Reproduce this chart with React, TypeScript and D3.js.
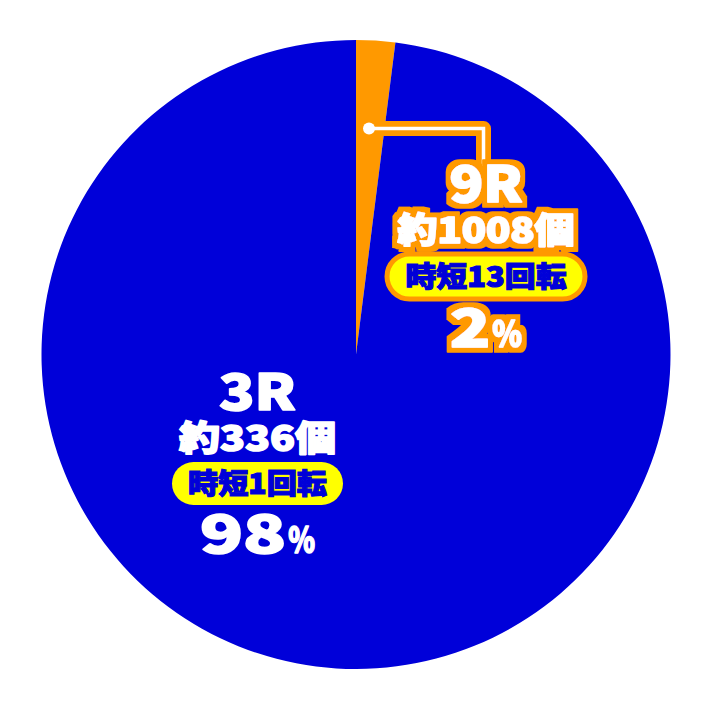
import * as d3 from "d3"

// 大当り振り分け
const rounds = ["9R", "3R"]
const shares = [2, 98]
const payouts = ["約1008個", "約336個"]
const jitan = ["時短13回転", "時短1回転"]

const W = 712
const H = 710
const CX = 356
const CY = 354.5
const R = 314.5

const BLUE = "#0000d9"
const ORANGE = "#ff9900"
const YELLOW = "#ffff00"
const FONT = "'Noto Sans CJK JP', 'Liberation Sans', sans-serif"

interface Slice {
  name: string
  share: number
  payout: string
  jitan: string
}

const slices: Slice[] = rounds.map((name, i) => ({
  name,
  share: shares[i],
  payout: payouts[i],
  jitan: jitan[i],
}))

const sliceColor: Record<string, string> = { "9R": ORANGE, "3R": BLUE }

// label block layout (centre x, and baselines)
const layout: Record<string, {
  cx: number; round: number; payout: number; pill: number; pct: number
  roundW: number; payoutW: number; pillW: number; pillTextW: number; pctW: number
  outlined: boolean
}> = {
  "9R": { cx: 486, round: 201.5, payout: 243, pill: 276.5, pct: 346.5, roundW: 73, payoutW: 177, pillW: 198, pillTextW: 161, pctW: 72, outlined: true },
  "3R": { cx: 257.5, round: 410, payout: 451, pill: 483.5, pct: 553, roundW: 77, payoutW: 157, pillW: 171, pillTextW: 139, pctW: 115, outlined: false },
}

function Label({ s }: { s: Slice }) {
  const L = layout[s.name]
  const pct = String(s.share)
  const numW = L.pctW * (pct.length === 1 ? 0.56 : 0.75)
  const signW = L.pctW - numW - 2
  const x0 = L.cx - L.pctW / 2
  const pillH = L.outlined ? 45 : 43
  // heavy white: thin white stroke thickens the glyphs
  const heavy = { fill: "#fff", stroke: "#fff", strokeWidth: 1.6, strokeLinejoin: "round" as const }
  return (
    <g fontFamily={FONT} fontWeight={900}>
      <g filter={L.outlined ? "url(#halo)" : undefined}>
        <text x={L.cx} y={L.round} fontSize={50} textAnchor="middle"
          textLength={L.roundW} lengthAdjust="spacingAndGlyphs" {...heavy}>{s.name}</text>
        <text x={L.cx} y={L.payout} fontSize={35} textAnchor="middle"
          textLength={L.payoutW} lengthAdjust="spacingAndGlyphs" {...heavy}>{s.payout}</text>
        <text x={x0} y={L.pct} fontSize={52} textLength={numW}
          lengthAdjust="spacingAndGlyphs" {...heavy}>{pct}</text>
        <text x={x0 + numW + 2} y={L.pct} fontSize={36} textLength={signW}
          lengthAdjust="spacingAndGlyphs" {...heavy}>%</text>
      </g>
      <rect x={L.cx - L.pillW / 2} y={L.pill - pillH / 2} width={L.pillW} height={pillH}
        rx={pillH / 2} fill={YELLOW}
        stroke={L.outlined ? ORANGE : "none"} strokeWidth={L.outlined ? 5 : 0} />
      <text x={L.cx} y={L.pill} dy="0.36em" fill={BLUE} stroke={BLUE} strokeWidth={1.2}
        fontSize={28} textAnchor="middle"
        textLength={L.pillTextW} lengthAdjust="spacingAndGlyphs">{s.jitan}</text>
    </g>
  )
}

export default function App() {
  const pie = d3.pie<Slice>().sort(null).value((d) => d.share).startAngle(0).endAngle(2 * Math.PI)
  const arc = d3.arc<d3.PieArcDatum<Slice>>().innerRadius(0).outerRadius(R)
  const arcs = pie(slices)

  // leader from the 9R slice to its label
  const leaderY = 128.5
  const leaderX0 = CX + 13
  const leader = d3.line()([
    [leaderX0, leaderY],
    [483.5, leaderY],
    [483.5, 166],
  ])

  return (
    <svg width={W} height={H} style={{ position: "absolute", left: 0, top: 0, background: "#fff" }}>
      <defs>
        <filter id="halo" x="-20%" y="-40%" width="140%" height="180%">
          <feMorphology in="SourceAlpha" operator="dilate" radius={5} result="grow" />
          <feFlood floodColor={ORANGE} />
          <feComposite in2="grow" operator="in" result="ring" />
          <feMerge>
            <feMergeNode in="ring" />
            <feMergeNode in="SourceGraphic" />
          </feMerge>
        </filter>
      </defs>
      <g transform={`translate(${CX},${CY})`}>
        {arcs.map((a) => (
          <path key={a.data.name} d={arc(a) ?? ""} fill={sliceColor[a.data.name]} />
        ))}
      </g>
      <path d={leader ?? ""} fill="none" stroke={ORANGE} strokeWidth={15} strokeLinejoin="round" />
      <path d={leader ?? ""} fill="none" stroke="#fff" strokeWidth={3.5} />
      <circle cx={leaderX0} cy={leaderY} r={6} fill="#fff" />
      {slices.map((s) => <Label key={s.name} s={s} />)}
    </svg>
  )
}
